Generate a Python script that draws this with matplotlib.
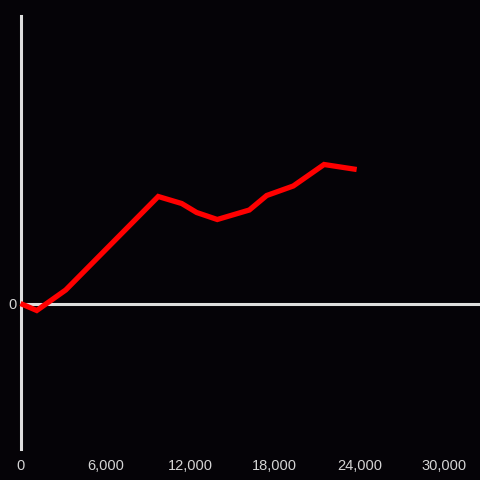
import matplotlib
matplotlib.use("Agg")
import matplotlib.pyplot as plt
from matplotlib.ticker import FuncFormatter

# Data
x_vals = [0, 1150, 3200, 9750, 11410, 12470, 13930, 16200, 17430, 19310, 21490, 23800]
y_vals = [0, -70, 135, 1070, 1000, 910, 840, 935, 1080, 1175, 1390, 1340]
x_ticks = [0, 6000, 12000, 18000, 24000, 30000]
y_ticks = [0]

BG = "#050307"
AXIS = "#dedede"
TXT = "#d4d4d4"

fig = plt.figure(figsize=(4.8, 4.8), dpi=100, facecolor=BG)
ax = fig.add_axes([20.5 / 480, (480 - 449) / 480, 1 - 20.5 / 480, (449 - 16) / 480])
ax.set_facecolor(BG)

ax.set_xlim(0, 32530)
ax.set_ylim(-1455, 2875)

for s in ["top", "right", "bottom"]:
    ax.spines[s].set_visible(False)
ax.spines["left"].set_color(AXIS)
ax.spines["left"].set_linewidth(2.2)

ax.axhline(0, color=AXIS, linewidth=2.2, zorder=1)

ax.plot(x_vals, y_vals, color="#ff0000", linewidth=3.8, solid_capstyle="butt",
        solid_joinstyle="miter", zorder=3, clip_on=False)

ax.set_xticks(x_ticks)
ax.set_yticks(y_ticks)
ax.xaxis.set_major_formatter(FuncFormatter(lambda v, p: f"{int(v):,}"))
ax.tick_params(axis="x", length=0, pad=7, labelsize=10.5, labelcolor=TXT)
ax.tick_params(axis="y", length=0, pad=3, labelsize=10.5, labelcolor=TXT)
for lab in ax.get_xticklabels() + ax.get_yticklabels():
    lab.set_fontfamily("Liberation Sans")

fig.savefig("out.png", dpi=100, facecolor=BG)
